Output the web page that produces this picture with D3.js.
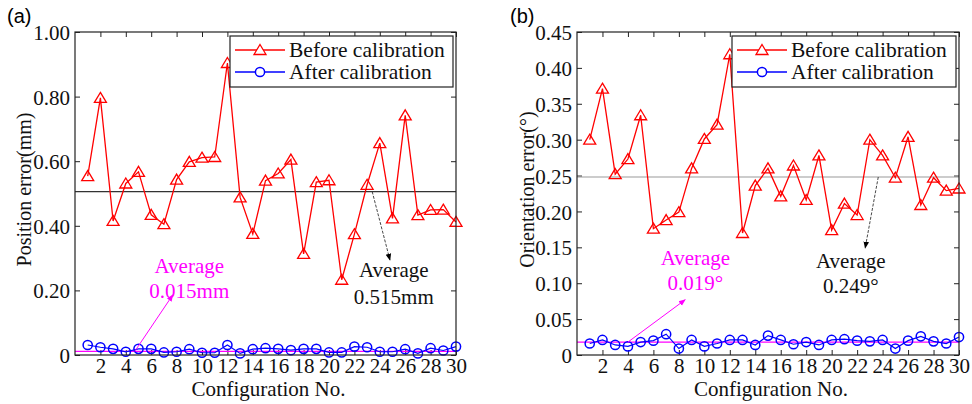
<!DOCTYPE html>
<html>
<head>
<meta charset="utf-8">
<script src="https://cdn.jsdelivr.net/npm/d3@7"></script>
<style>
  body { margin: 0; background: #fff; }
  svg { display: block; }
</style>
</head>
<body>
<div id="chart"></div>
<script>
// configuration numbers 1..30
let configs = d3.range(1, 31);
let xTicks = d3.range(2, 31, 2);

// (a) position error, mm
let posBefore = [0.554, 0.796, 0.415, 0.531, 0.567, 0.434, 0.405, 0.543, 0.598, 0.611,
                 0.613, 0.904, 0.488, 0.375, 0.540, 0.562, 0.605, 0.313, 0.535, 0.541,
                 0.233, 0.374, 0.527, 0.656, 0.423, 0.742, 0.433, 0.449, 0.450, 0.412];
let posAfter = [0.031, 0.024, 0.019, 0.010, 0.019, 0.019, 0.008, 0.010, 0.018, 0.007,
                0.007, 0.031, 0.005, 0.018, 0.021, 0.019, 0.015, 0.019, 0.019, 0.008,
                0.008, 0.026, 0.024, 0.010, 0.010, 0.018, 0.005, 0.021, 0.014, 0.026];
let posTicks = [0, 0.2, 0.4, 0.6, 0.8, 1.0];
let posAvgBefore = 0.506;   // where the grey line sits in the picture
let posAvgAfter = 0.011;

// (b) orientation error, degrees
let oriBefore = [0.300, 0.371, 0.252, 0.273, 0.334, 0.176, 0.188, 0.199, 0.260, 0.301,
                 0.321, 0.419, 0.170, 0.236, 0.260, 0.221, 0.264, 0.216, 0.278, 0.174,
                 0.211, 0.195, 0.300, 0.278, 0.247, 0.304, 0.209, 0.247, 0.229, 0.232];
let oriAfter = [0.016, 0.021, 0.014, 0.012, 0.018, 0.020, 0.029, 0.009, 0.021, 0.012,
                0.016, 0.021, 0.021, 0.014, 0.027, 0.021, 0.015, 0.018, 0.014, 0.021,
                0.022, 0.020, 0.019, 0.021, 0.009, 0.020, 0.026, 0.019, 0.016, 0.025];
let oriTicks = [0, 0.05, 0.10, 0.15, 0.20, 0.25, 0.30, 0.35, 0.40, 0.45];
let oriAvgBefore = 0.248;
let oriAvgAfter = 0.018;

let legendLabels = ["Before calibration", "After calibration"];

let w = 972, h = 404;
let serif = "'Liberation Serif', 'Times New Roman', serif";

let svg = d3.select("#chart").append("svg")
    .attr("width", w)
    .attr("height", h)
;

let panels = [
  {
    tag: "(a)", tagX: 7,
    left: 75, right: 456, top: 32, bottom: 355,
    yMax: 1.0, ticks: posTicks, before: posBefore, after: posAfter,
    ylabel: "Position error(mm)", ylabelX: 31,
    avgBefore: posAvgBefore, avgAfter: posAvgAfter, avgColor: "#333",
    legend: { x0: 230, x1: 453, y0: 36, y1: 87 },
    // annotations in data units: [x, y]
    pinkArrow: [[4.7, posAvgAfter], [7.7, 0.186]],
    pinkText: { x: 9.0, y1: 0.254, y2: 0.176, lines: ["Average", "0.015mm"] },
    blackArrow: [[23.4, posAvgBefore], [24.8, 0.294]],
    blackText: { x: 25.1, y1: 0.241, y2: 0.158, lines: ["Average", "0.515mm"] }
  },
  {
    tag: "(b)", tagX: 510,
    left: 577, right: 959, top: 32, bottom: 355,
    yMax: 0.45, ticks: oriTicks, before: oriBefore, after: oriAfter,
    ylabel: "Orientation error(°)", ylabelX: 534,
    avgBefore: oriAvgBefore, avgAfter: oriAvgAfter, avgColor: "#999",
    legend: { x0: 732, x1: 956, y0: 36, y1: 87 },
    pinkArrow: [[4.0, oriAvgAfter], [8.5, 0.077]],
    pinkText: { x: 9.3, y1: 0.125, y2: 0.0906, lines: ["Average", "0.019°"] },
    blackArrow: [[23.66, oriAvgBefore], [22.63, 0.149]],
    blackText: { x: 21.5, y1: 0.121, y2: 0.0864, lines: ["Average", "0.249°"] }
  }
];

// arrow heads
let defs = svg.append("defs");
function addHead(id, color){
  defs.append("marker")
      .attr("id", id)
      .attr("viewBox", "0 0 10 10")
      .attr("refX", 9).attr("refY", 5)
      .attr("markerWidth", 7).attr("markerHeight", 7)
      .attr("markerUnits", "userSpaceOnUse")
      .attr("orient", "auto")
    .append("path")
      .attr("d", "M0,1 L10,5 L0,9 Z")
      .attr("fill", color)
  ;
}
addHead("headPink", "#ff00ff");
addHead("headBlack", "#000");

let triangle = "M0,-5.5 L6,4.5 L-6,4.5 Z";

panels.forEach(drawPanel);

function drawPanel(p){
  let xScale = d3.scaleLinear().domain([0, 30]).range([p.left, p.right]);
  let yScale = d3.scaleLinear().domain([0, p.yMax]).range([p.bottom, p.top]);
  let g = svg.append("g");

  // panel tag
  g.append("text")
      .attr("x", p.tagX).attr("y", 23)
      .attr("font-family", "'Liberation Sans', Arial, sans-serif")
      .attr("font-size", 20)
      .text(p.tag)
  ;

  // axes, ticks pointing inward like matlab
  let fmt = function(d){ return d === 0 ? "0" : d3.format(".2f")(d); };
  let bottomAxis = g.append("g")
      .attr("transform", "translate(0," + p.bottom + ")")
      .call(d3.axisBottom(xScale).tickValues(xTicks).tickSize(-5).tickFormat(d3.format("d")));
  bottomAxis.selectAll("text").attr("y", 18).attr("dy", 0);

  g.append("g")
      .attr("transform", "translate(0," + p.top + ")")
      .call(d3.axisTop(xScale).tickValues(xTicks).tickSize(-5).tickFormat(""));

  let leftAxis = g.append("g")
      .attr("transform", "translate(" + p.left + ",0)")
      .call(d3.axisLeft(yScale).tickValues(p.ticks).tickSize(-5).tickPadding(5).tickFormat(fmt));
  leftAxis.selectAll("text").attr("x", -5).attr("dy", "0.36em");

  g.append("g")
      .attr("transform", "translate(" + p.right + ",0)")
      .call(d3.axisRight(yScale).tickValues(p.ticks).tickSize(-5).tickFormat(""));

  g.selectAll(".domain").remove();
  g.selectAll(".tick line").attr("stroke", "#222");
  g.selectAll(".tick text")
      .attr("font-family", serif)
      .attr("font-size", 21)
      .attr("fill", "#111")
  ;

  // axis titles
  g.append("text")
      .attr("x", (p.left + p.right) / 2 + 3)
      .attr("y", 396)
      .attr("text-anchor", "middle")
      .attr("font-family", serif)
      .attr("font-size", 21)
      .attr("fill", "#111")
      .text("Configuration No.")
  ;
  g.append("text")
      .attr("transform", "translate(" + p.ylabelX + "," + ((p.top + p.bottom) / 2 - 4) + ") rotate(-90)")
      .attr("text-anchor", "middle")
      .attr("font-family", serif)
      .attr("font-size", 20)
      .attr("fill", "#111")
      .text(p.ylabel)
  ;

  // average lines
  g.append("line")
      .attr("x1", p.left).attr("x2", p.right)
      .attr("y1", yScale(p.avgBefore)).attr("y2", yScale(p.avgBefore))
      .attr("stroke", p.avgColor).attr("stroke-width", 1.2)
  ;
  g.append("line")
      .attr("x1", p.left).attr("x2", p.right)
      .attr("y1", yScale(p.avgAfter)).attr("y2", yScale(p.avgAfter))
      .attr("stroke", "#ff00ff").attr("stroke-width", 1.2)
  ;

  let lineMaker = d3.line()
      .x(function(d, i){ return xScale(configs[i]); })
      .y(function(d){ return yScale(d); })
  ;

  // before calibration
  g.append("path")
      .attr("d", lineMaker(p.before))
      .attr("fill", "none").attr("stroke", "#ff0000").attr("stroke-width", 1.3)
  ;
  g.selectAll(".tri").data(p.before).enter().append("path")
      .attr("class", "tri")
      .attr("d", triangle)
      .attr("transform", function(d, i){ return "translate(" + xScale(configs[i]) + "," + yScale(d) + ")"; })
      .attr("fill", "none").attr("stroke", "#ff0000").attr("stroke-width", 1.3)
  ;

  // after calibration
  g.append("path")
      .attr("d", lineMaker(p.after))
      .attr("fill", "none").attr("stroke", "#0000ff").attr("stroke-width", 1.2)
  ;
  g.selectAll(".circ").data(p.after).enter().append("circle")
      .attr("class", "circ")
      .attr("cx", function(d, i){ return xScale(configs[i]); })
      .attr("cy", function(d){ return yScale(d); })
      .attr("r", 4.6)
      .attr("fill", "none").attr("stroke", "#0000ff").attr("stroke-width", 1.5)
  ;

  // annotations
  g.append("line")
      .attr("x1", xScale(p.pinkArrow[0][0])).attr("y1", yScale(p.pinkArrow[0][1]))
      .attr("x2", xScale(p.pinkArrow[1][0])).attr("y2", yScale(p.pinkArrow[1][1]))
      .attr("stroke", "#ff00ff").attr("stroke-width", 1)
      .attr("marker-end", "url(#headPink)")
  ;
  g.append("line")
      .attr("x1", xScale(p.blackArrow[0][0])).attr("y1", yScale(p.blackArrow[0][1]))
      .attr("x2", xScale(p.blackArrow[1][0])).attr("y2", yScale(p.blackArrow[1][1]))
      .attr("stroke", "#333").attr("stroke-width", 0.9)
      .attr("stroke-dasharray", "3,1.5")
      .attr("marker-end", "url(#headBlack)")
  ;
  [[p.pinkText, "#ff00ff"], [p.blackText, "#111"]].forEach(function(pair){
    let t = pair[0];
    [t.y1, t.y2].forEach(function(yv, k){
      g.append("text")
          .attr("x", xScale(t.x)).attr("y", yScale(yv))
          .attr("text-anchor", "middle")
          .attr("font-family", serif)
          .attr("font-size", 21)
          .attr("fill", pair[1])
          .text(t.lines[k])
      ;
    });
  });

  // frame
  g.append("rect")
      .attr("x", p.left).attr("y", p.top)
      .attr("width", p.right - p.left).attr("height", p.bottom - p.top)
      .attr("fill", "none").attr("stroke", "#222").attr("stroke-width", 1.2)
  ;

  // legend
  let L = p.legend;
  let lg = g.append("g");
  lg.append("rect")
      .attr("x", L.x0).attr("y", L.y0)
      .attr("width", L.x1 - L.x0).attr("height", L.y1 - L.y0)
      .attr("fill", "#fff").attr("stroke", "#222").attr("stroke-width", 1.2)
  ;
  let rows = [
    { label: legendLabels[0], color: "#ff0000", y: L.y0 + 14, shape: "tri" },
    { label: legendLabels[1], color: "#0000ff", y: L.y0 + 36, shape: "circ" }
  ];
  rows.forEach(function(r){
    lg.append("line")
        .attr("x1", L.x0 + 5).attr("x2", L.x0 + 55)
        .attr("y1", r.y).attr("y2", r.y)
        .attr("stroke", r.color).attr("stroke-width", 1.3)
    ;
    if(r.shape == "tri"){
      lg.append("path")
          .attr("d", triangle)
          .attr("transform", "translate(" + (L.x0 + 30) + "," + r.y + ")")
          .attr("fill", "#fff").attr("stroke", r.color).attr("stroke-width", 1.3)
      ;
    } else {
      lg.append("circle")
          .attr("cx", L.x0 + 30).attr("cy", r.y).attr("r", 4.6)
          .attr("fill", "#fff").attr("stroke", r.color).attr("stroke-width", 1.5)
      ;
    }
    lg.append("text")
        .attr("x", L.x0 + 59).attr("y", r.y + 7)
        .attr("font-family", serif)
        .attr("font-size", 21.5)
        .attr("fill", "#111")
        .text(r.label)
    ;
  });
}
</script>
</body>
</html>
